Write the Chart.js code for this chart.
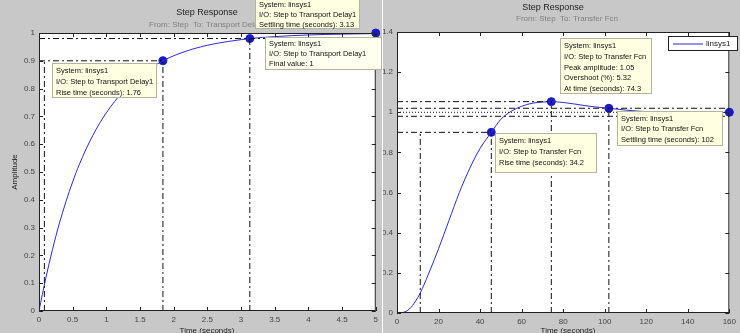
<!DOCTYPE html>
<html>
<head>
<meta charset="utf-8">
<script src="https://cdn.jsdelivr.net/npm/chart.js@4"></script>
<style>
  html, body { margin: 0; padding: 0; background: #fff; }
  #wrap { position: relative; width: 740px; height: 333px; overflow: hidden; }
  #cA { position: absolute; left: 0; top: 0; }
  #cB { position: absolute; left: 383px; top: 0; }
</style>
</head>
<body>
<div id="wrap">
  <canvas id="cA" width="382" height="333"></canvas>
  <canvas id="cB" width="357" height="333"></canvas>
</div>
<script>
// left: step to Transport Delay1
var timeA = [0, 0.05, 0.1, 0.2, 0.3, 0.4, 0.5, 0.6, 0.8, 1.0, 1.25, 1.5, 1.84, 2.2, 2.6, 3.0, 3.13, 3.5, 4.0, 4.5, 5.0];
var ampA  = [0, 0.06, 0.117, 0.221, 0.313, 0.393, 0.465, 0.528, 0.632, 0.713, 0.79, 0.847, 0.9, 0.936, 0.961, 0.976, 0.98, 0.987, 0.993, 0.996, 0.998];
var markTimeA = [1.84, 3.13, 5];
var markAmpA  = [0.9, 0.98, 1];
var xTicksA = [0, 0.5, 1, 1.5, 2, 2.5, 3, 3.5, 4, 4.5, 5];
var yTicksA = [0, 0.1, 0.2, 0.3, 0.4, 0.5, 0.6, 0.7, 0.8, 0.9, 1];

// right: step to Transfer Fcn
var timeB = [0, 3, 6, 9, 11.2, 15, 20, 25, 30, 35, 40, 45.4, 50, 55, 60, 65, 70, 74.3, 80, 85, 90, 95, 102, 110, 120, 130, 140, 150, 160];
var ampB  = [0, 0.003, 0.02, 0.06, 0.1, 0.19, 0.32, 0.46, 0.6, 0.72, 0.82, 0.9, 0.965, 1.005, 1.03, 1.045, 1.051, 1.053, 1.049, 1.042, 1.034, 1.027, 1.02, 1.011, 1.003, 0.999, 0.998, 0.999, 1.0];
var markTimeB = [45.4, 74.3, 102, 160];
var markAmpB  = [0.9, 1.053, 1.02, 1];
var xTicksB = [0, 20, 40, 60, 80, 100, 120, 140, 160];
var yTicksB = [0, 0.2, 0.4, 0.6, 0.8, 1, 1.2, 1.4];

var FONT = '"Liberation Sans", Arial, sans-serif';
var GRAY = '#c8c8c8';
var BLUE = '#2b2bd6';
var DASHDOT = [6, 3, 2, 3];

function seg(x1, y1, x2, y2, dash) {
  return {
    data: [{x: x1, y: y1}, {x: x2, y: y2}],
    borderColor: '#111', borderWidth: 1, borderDash: dash || DASHDOT,
    pointRadius: 0, fill: false
  };
}

function curve(t, a) {
  return {
    data: t.map(function (v, i) { return {x: v, y: a[i]}; }),
    borderColor: BLUE, borderWidth: 1, pointRadius: 0,
    cubicInterpolationMode: 'monotone', fill: false
  };
}

function marks(t, a) {
  return {
    data: t.map(function (v, i) { return {x: v, y: a[i]}; }),
    showLine: false, pointRadius: 4, pointBackgroundColor: '#1a1acc',
    pointBorderColor: '#1a1acc', clip: false
  };
}

function axis(min, max, ticks, size, horiz) {
  return {
    type: 'linear', min: min, max: max,
    grid: { display: false, drawTicks: false },
    border: { display: false },
    ticks: {
      font: { family: FONT, size: 8 }, color: '#444', padding: 4,
      autoSkip: false, maxRotation: 0,
      callback: function (v) { return String(v); }
    },
    afterBuildTicks: function (s) { s.ticks = ticks.map(function (v) { return {value: v}; }); },
    afterFit: function (s) { if (horiz) s.height = size; else s.width = size; }
  };
}

function drawTip(ctx, t) {
  ctx.fillStyle = t.bg || '#ffffe1';
  ctx.fillRect(t.x, t.y, t.w, t.h);
  ctx.strokeStyle = '#b4b49a';
  ctx.lineWidth = 1;
  ctx.strokeRect(t.x + 0.5, t.y + 0.5, t.w - 1, t.h - 1);
  ctx.fillStyle = '#111';
  ctx.font = '7.5px ' + FONT;
  ctx.textAlign = 'left';
  ctx.textBaseline = 'middle';
  t.lines.forEach(function (s, i) { ctx.fillText(s, t.x + 4, t.y + t.off + i * t.step); });
}

function makeFrame(cfg) {
  return {
    id: 'frame',
    beforeDraw: function (chart) {
      var ctx = chart.ctx, a = chart.chartArea;
      ctx.save();
      ctx.fillStyle = GRAY;
      ctx.fillRect(0, 0, chart.width, chart.height);
      ctx.fillStyle = '#fff';
      ctx.fillRect(a.left, a.top, a.right - a.left, a.bottom - a.top);
      ctx.restore();
    },
    afterDatasetsDraw: function (chart) {
      var ctx = chart.ctx, a = chart.chartArea;
      var sx = chart.scales.x, sy = chart.scales.y;
      ctx.save();
      ctx.strokeStyle = '#222';
      ctx.lineWidth = 1;
      ctx.strokeRect(a.left + 0.5, a.top + 0.5, a.right - a.left - 1, a.bottom - a.top - 1);
      ctx.beginPath();
      sx.ticks.forEach(function (t) {
        var p = Math.round(sx.getPixelForValue(t.value)) + 0.5;
        ctx.moveTo(p, a.bottom); ctx.lineTo(p, a.bottom - 4);
        ctx.moveTo(p, a.top); ctx.lineTo(p, a.top + 4);
      });
      sy.ticks.forEach(function (t) {
        var p = Math.round(sy.getPixelForValue(t.value)) + 0.5;
        ctx.moveTo(a.left, p); ctx.lineTo(a.left + 4, p);
        ctx.moveTo(a.right, p); ctx.lineTo(a.right - 4, p);
      });
      ctx.stroke();
      ctx.restore();
    },
    afterDraw: function (chart) {
      var ctx = chart.ctx;
      ctx.save();
      ctx.textAlign = 'center';
      ctx.textBaseline = 'middle';
      ctx.fillStyle = '#222';
      ctx.font = '9px ' + FONT;
      ctx.fillText('Step Response', cfg.title[0], cfg.title[1]);
      ctx.fillStyle = '#808080';
      ctx.font = '8px ' + FONT;
      ctx.fillText(cfg.sub, cfg.subPos[0], cfg.subPos[1]);
      ctx.fillStyle = '#222';
      ctx.fillText('Time (seconds)', cfg.xlab[0], cfg.xlab[1]);
      if (cfg.ylab) {
        ctx.save();
        ctx.translate(cfg.ylab[0], cfg.ylab[1]);
        ctx.rotate(-Math.PI / 2);
        ctx.fillText('Amplitude', 0, 0);
        ctx.restore();
      }
      if (cfg.legend) {
        var L = cfg.legend;
        ctx.fillStyle = '#fff';
        ctx.fillRect(L.x, L.y, L.w, L.h);
        ctx.strokeStyle = '#222';
        ctx.strokeRect(L.x + 0.5, L.y + 0.5, L.w - 1, L.h - 1);
        ctx.strokeStyle = BLUE;
        ctx.beginPath();
        ctx.moveTo(L.x + 5, L.y + L.h / 2 + 0.5);
        ctx.lineTo(L.x + 35, L.y + L.h / 2 + 0.5);
        ctx.stroke();
        ctx.fillStyle = '#222';
        ctx.textAlign = 'left';
        ctx.fillText('linsys1', L.x + 38, L.y + L.h / 2);
      }
      cfg.tips.forEach(function (t) { drawTip(ctx, t); });
      ctx.restore();
    }
  };
}

function build(id, datasets, scales, padding, frame) {
  return new Chart(document.getElementById(id), {
    type: 'line',
    data: { datasets: datasets },
    options: {
      responsive: false, animation: false, devicePixelRatio: 1, events: [],
      layout: { padding: padding },
      plugins: { legend: { display: false }, tooltip: { enabled: false } },
      scales: scales
    },
    plugins: [frame]
  });
}

var dsA = [
  seg(0.08, 0, 0.08, 0.9),
  seg(1.84, 0, 1.84, 0.9),
  seg(3.13, 0, 3.13, 0.98),
  seg(0, 0.9, 1.84, 0.9),
  seg(0, 0.98, 5, 0.98),
  seg(0, 1, 5, 1, [1, 2]),
  curve(timeA, ampA),
  marks(markTimeA, markAmpA)
];

build('cA', dsA, {
  x: axis(0, 5, xTicksA, 22, true),
  y: axis(0, 1, yTicksA, 39, false)
}, { top: 33, right: 4, left: 0, bottom: 0 }, makeFrame({
  title: [207, 13], sub: 'From: Step  To: Transport Delay1', subPos: [208, 25],
  xlab: [207, 331], ylab: [15, 172],
  tips: [
    { x: 52, y: 63, w: 105, h: 35, off: 8, step: 11,
      lines: ['System: linsys1', 'I/O: Step to Transport Delay1', 'Rise time (seconds): 1.76'] },
    { x: 265, y: 37, w: 117, h: 33, off: 7, step: 10, bg: '#fffff0',
      lines: ['System: linsys1', 'I/O: Step to Transport Delay1', 'Final value: 1'] },
    { x: 255, y: -2, w: 105, h: 31, off: 7, step: 10,
      lines: ['System: linsys1', 'I/O: Step to Transport Delay1', 'Settling time (seconds): 3.13'] }
  ]
}));

var dsB = [
  seg(11.2, 0, 11.2, 0.9),
  seg(45.4, 0, 45.4, 0.9),
  seg(74.3, 0, 74.3, 1.053),
  seg(102, 0, 102, 1.02),
  seg(0, 0.9, 45.4, 0.9),
  seg(0, 1.053, 74.3, 1.053),
  seg(0, 1.02, 160, 1.02),
  seg(0, 0.98, 160, 0.98),
  seg(0, 1, 160, 1, [1, 2]),
  curve(timeB, ampB),
  marks(markTimeB, markAmpB)
];

build('cB', dsB, {
  x: axis(0, 160, xTicksB, 20, true),
  y: axis(0, 1.4, yTicksB, 14, false)
}, { top: 32, right: 0, left: 0, bottom: 0 }, makeFrame({
  title: [170, 8], sub: 'From: Step  To: Transfer Fcn', subPos: [184, 19],
  xlab: [185, 331], ylab: null,
  legend: { x: 285, y: 36, w: 70, h: 15 },
  tips: [
    { x: 177, y: 38, w: 92, h: 56, off: 8, step: 10.8,
      lines: ['System: linsys1', 'I/O: Step to Transfer Fcn', 'Peak amplitude: 1.05', 'Overshoot (%): 5.32', 'At time (seconds): 74.3'] },
    { x: 112, y: 133, w: 102, h: 40, off: 8, step: 11,
      lines: ['System: linsys1', 'I/O: Step to Transfer Fcn', 'Rise time (seconds): 34.2'] },
    { x: 234, y: 111, w: 106, h: 35, off: 7.5, step: 10.5,
      lines: ['System: linsys1', 'I/O: Step to Transfer Fcn', 'Settling time (seconds): 102'] }
  ]
}));
</script>
</body>
</html>
